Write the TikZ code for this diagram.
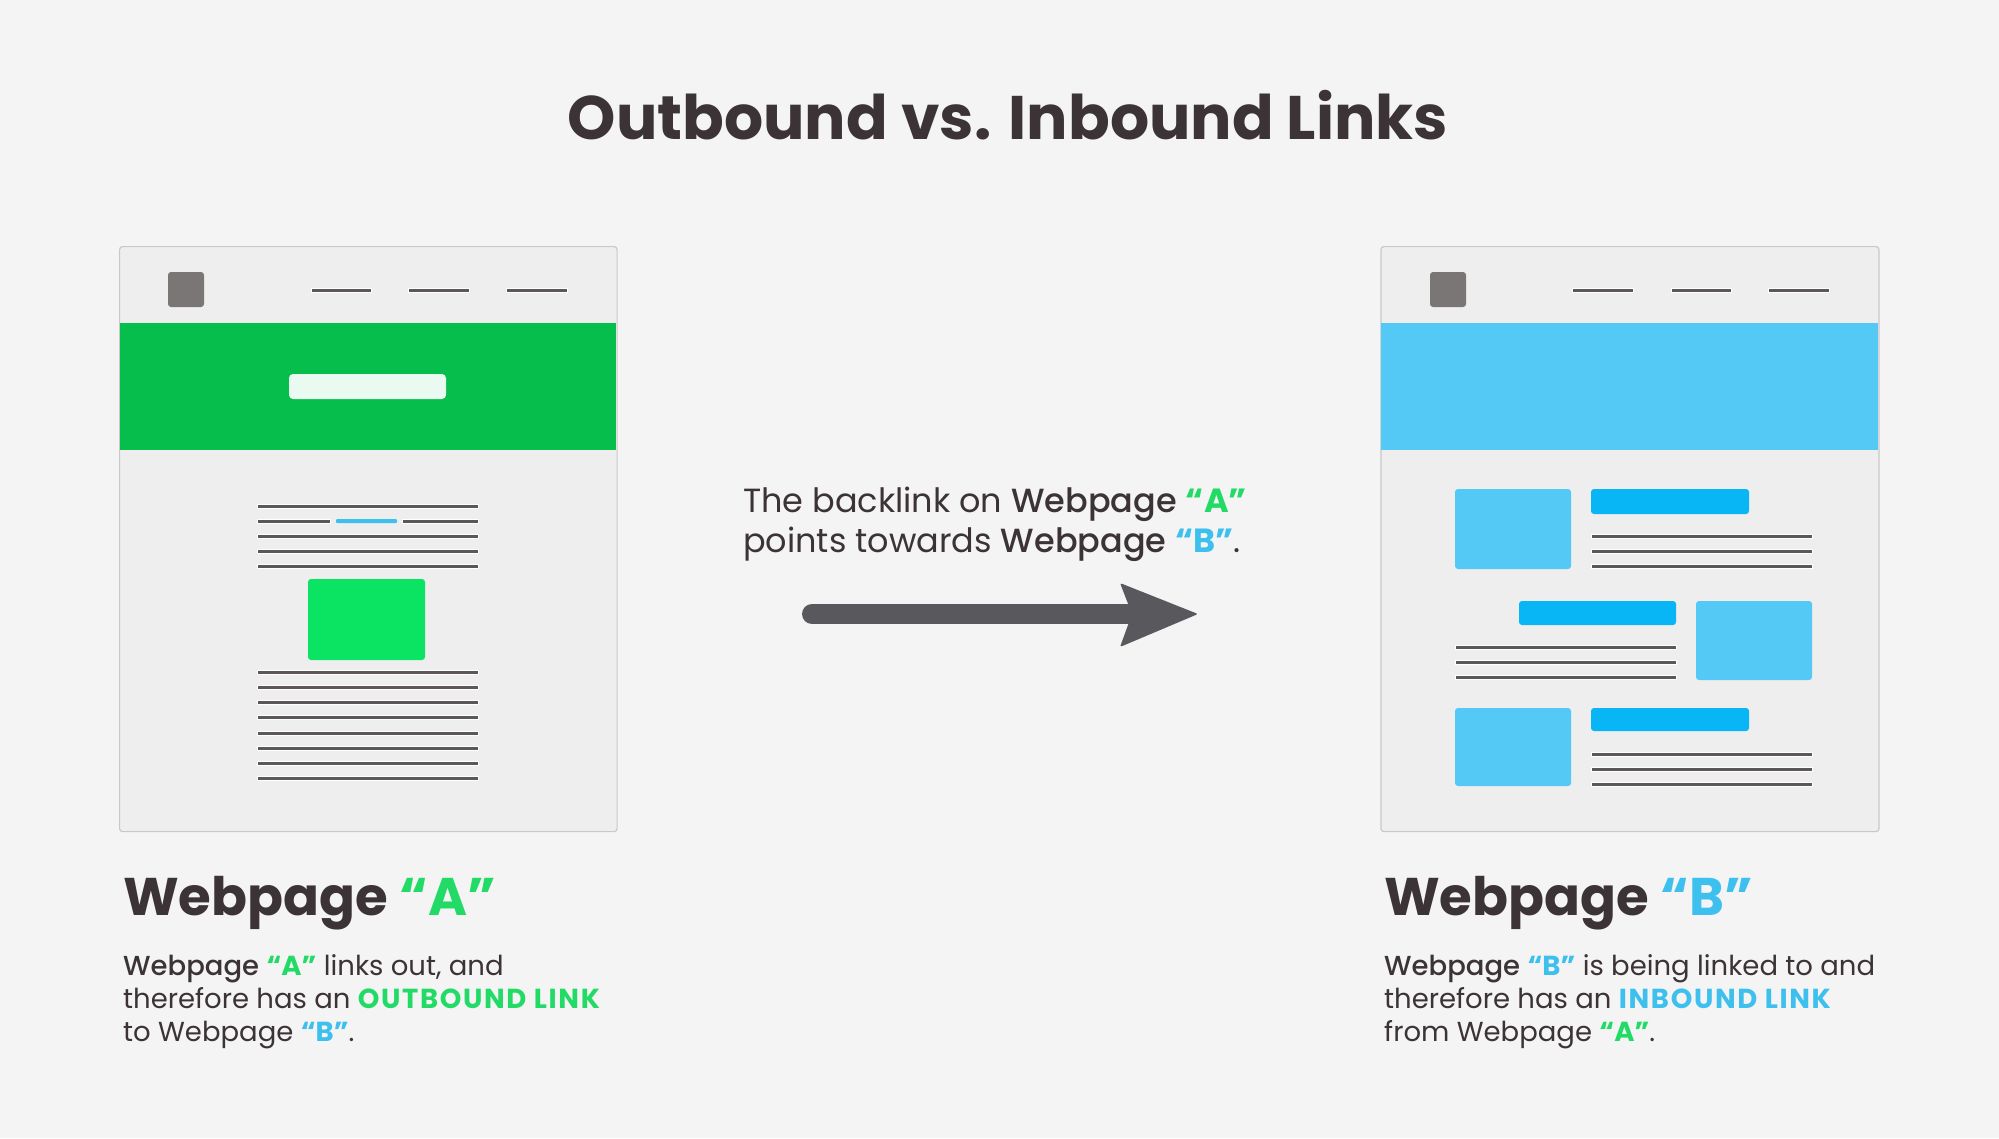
\documentclass[tikz,border=0pt]{standalone}
\usepackage{fontspec}
\setmainfont{Poppins}
\newfontfamily\pmed{Poppins}[UprightFont=* Medium]
\newcommand{\wideB}[1]{{\bfseries\addfontfeatures{LetterSpace=6}#1}}
\newcommand{\medw}[1]{{\pmed #1}}
\definecolor{bg}{HTML}{F5F4F4}
\definecolor{textdark}{HTML}{3B3335}
\definecolor{grnA}{HTML}{05BE4B}
\definecolor{grnB}{HTML}{0BE462}
\definecolor{grnT}{HTML}{22DB67}
\definecolor{bluH}{HTML}{55C9F5}
\definecolor{bluB}{HTML}{08B5F5}
\definecolor{bluT}{HTML}{3DC0EE}
\definecolor{framefill}{HTML}{EFEEEF}
\definecolor{frameline}{HTML}{C9C7C7}
\definecolor{mline}{HTML}{5C5758}
\definecolor{logo}{HTML}{7A7676}
\definecolor{arrowc}{HTML}{59585D}
\tikzset{
  frame/.style={draw=frameline, line width=1.2pt, fill=framefill, rounded corners=3pt, inner sep=0pt},
  txtline/.style={draw=white, line width=0.8pt, fill=mline},
  logobox/.style={fill=logo, rounded corners=3pt},
  rbox/.style={rounded corners=3pt},
  body/.style={font=\fontsize{27.5}{33}\selectfont, text=textdark, inner sep=0pt, anchor=base west},
  head/.style={font=\fontsize{53}{60}\selectfont\bfseries, text=textdark, inner sep=0pt, anchor=base west},
  mid/.style={font=\fontsize{33.5}{40}\selectfont, text=textdark, inner sep=0pt, anchor=base west},
}
\begin{document}
\begin{tikzpicture}[x=1pt,y=-1pt]
\fill[bg] (0,0) rectangle (1999,1138);
\useasboundingbox (0,0) rectangle (1999,1138);

% title
\node[font=\fontsize{61.5}{70}\selectfont\bfseries, text=textdark, anchor=base, inner sep=0pt] (title) at (1008,139) {Outbound vs. Inbound Links};

% ---------- Webpage A ----------
\node[frame, minimum width=497.5pt, minimum height=585pt, anchor=north west] (pageA) at (119,246) {};
\fill[grnA] (119.6,323) rectangle (615.9,450);
\fill[logobox] (168,272) rectangle (204,307);
\foreach \a/\b in {311/371, 408/469, 506/567} \filldraw[txtline] (\a,288) rectangle (\b,292);
\fill[white!92!grnA, rounded corners=4pt] (289,374) rectangle (446,399);
% text lines top
\filldraw[txtline] (257,504) rectangle (478,508);
\filldraw[txtline] (257,519) rectangle (330,523);
\fill[bluT, rounded corners=1pt] (336,519) rectangle (397,523);
\filldraw[txtline] (402,519) rectangle (478,523);
\foreach \y in {534,549,564} \filldraw[txtline] (257,\y) rectangle (478,\y+4);
\fill[grnB, rbox] (308,579) rectangle (425,660);
\foreach \y in {670,685,700,715,731,746,761,776} \filldraw[txtline] (257,\y) rectangle (478,\y+4);

% ---------- Webpage B ----------
\node[frame, minimum width=498pt, minimum height=585pt, anchor=north west] (pageB) at (1380.3,246) {};
\fill[bluH] (1380.9,323) rectangle (1877.7,450);
\fill[logobox] (1430,272) rectangle (1466,307);
\foreach \a/\b in {1572/1633, 1671/1731, 1768/1829} \filldraw[txtline] (\a,288) rectangle (\b,292);
% row 1
\fill[bluH, rbox] (1455,489) rectangle (1571,569);
\fill[bluB, rbox] (1591,489) rectangle (1749,514);
\foreach \y in {534,549,564} \filldraw[txtline] (1591,\y) rectangle (1812,\y+4);
% row 2
\fill[bluB, rbox] (1519,601) rectangle (1676,625);
\fill[bluH, rbox] (1696,601) rectangle (1812,680);
\foreach \y in {645,660,675} \filldraw[txtline] (1455,\y) rectangle (1676,\y+4);
% row 3
\fill[bluH, rbox] (1455,708) rectangle (1571,786);
\fill[bluB, rbox] (1591,708) rectangle (1749,731);
\foreach \y in {752,767,782} \filldraw[txtline] (1591,\y) rectangle (1812,\y+4);

% ---------- middle ----------
\node[mid] (m1) at (743,512) {The backlink on \medw{Webpage} \textcolor{grnT}{\textbf{“A”}}};
\node[mid] (m2) at (743,552) {points towards \medw{Webpage} \textcolor{bluT}{\textbf{“B”}}.};
\coordinate (arrS) at (812,614);
\coordinate (arrE) at (1198,614);
\draw[arrowc, line width=20pt, line cap=round] (arrS) -- ([xshift=-60pt]arrE);
\fill[arrowc, rounded corners=2pt] (arrE) -- ([shift={(-78,-31)}]arrE) -- ([shift={(-66,0)}]arrE) -- ([shift={(-78,33)}]arrE) -- cycle;

% ---------- captions ----------
\node[head] (hA) at (123,915) {Webpage \textcolor{grnT}{“A”}};
\node[body] (a1) at (123,975) {\medw{Webpage} \textcolor{grnT}{\textbf{“A”}} links out, and};
\node[body] (a2) at (123,1008) {therefore has an \textcolor{grnT}{\wideB{OUTBOUND LINK}}};
\node[body] (a3) at (123,1041) {to Webpage \textcolor{bluT}{\textbf{“B”}}.};

\node[head] (hB) at (1384,915) {Webpage \textcolor{bluT}{“B”}};
\node[body] (b1) at (1384,975) {\medw{Webpage} \textcolor{bluT}{\textbf{“B”}} is being linked to and};
\node[body] (b2) at (1384,1008) {therefore has an \textcolor{bluT}{\wideB{INBOUND LINK}}};
\node[body] (b3) at (1384,1041) {from Webpage \textcolor{grnT}{\textbf{“A”}}.};
\end{tikzpicture}
\end{document}
